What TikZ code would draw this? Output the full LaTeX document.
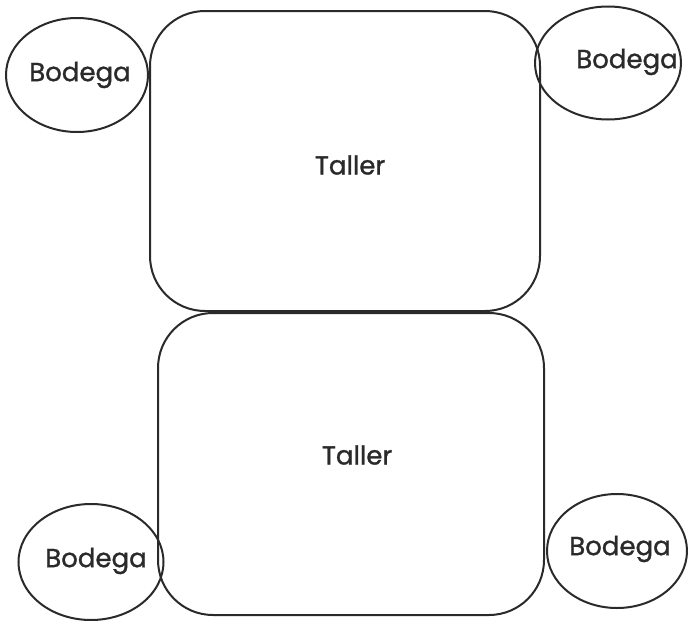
\documentclass[tikz,border=0pt]{standalone}
\usepackage{fontspec}
\setmainfont{Poppins}
\newfontfamily\lblfont{Poppins}[FakeBold=1.2]
\usetikzlibrary{shapes.geometric}
\definecolor{ink}{HTML}{2A2A2A}
\begin{document}
\begin{tikzpicture}[x=1pt,y=-1pt,
  room/.style={draw=ink,line width=2pt,rounded corners=55pt,inner sep=0pt},
  store/.style={draw=ink,line width=2pt,ellipse,inner sep=0pt},
  lbl/.style={text=ink,font=\lblfont\fontsize{26}{30}\selectfont,inner sep=0pt}]
\useasboundingbox (0,0) rectangle (688,621);
\fill[white] (0,0) rectangle (688,621);
\node[room,minimum width=390pt,minimum height=300pt] (t1) at (345,161) {};
\node[room,minimum width=386pt,minimum height=302pt] (t2) at (351,464) {};
\node[store,minimum width=142pt,minimum height=114pt] (b1) at (77,75) {};
\node[store,minimum width=146pt,minimum height=113pt] (b2) at (608,63) {};
\node[store,minimum width=145pt,minimum height=116pt] (b3) at (91,562) {};
\node[store,minimum width=140pt,minimum height=114pt] (b4) at (617,551) {};
\node[lbl] (l1) at (350,165) {Taller};
\node[lbl] (l2) at (357,455) {Taller};
\node[lbl] (lb1) at (80,75) {Bodega};
\node[lbl] (lb2) at (627,62) {Bodega};
\node[lbl] (lb3) at (96,561) {Bodega};
\node[lbl] (lb4) at (620,549) {Bodega};
\end{tikzpicture}
\end{document}
